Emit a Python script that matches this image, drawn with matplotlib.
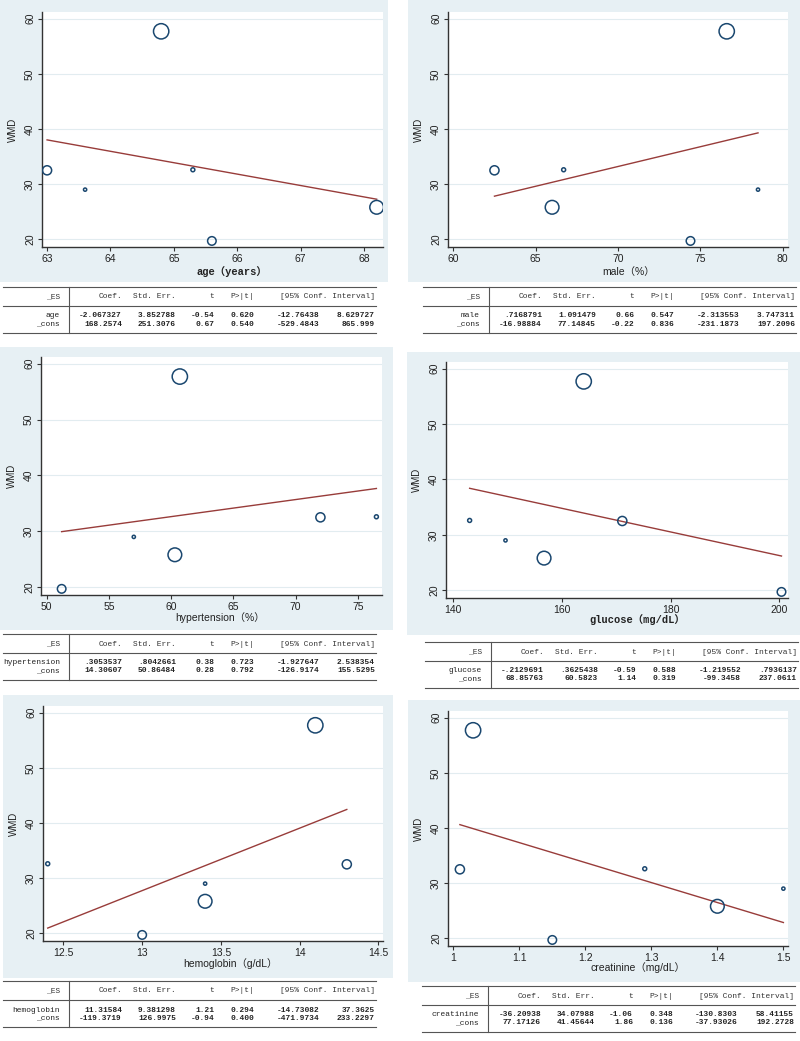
import matplotlib
matplotlib.use("Agg")
import matplotlib.pyplot as plt
from matplotlib.patches import Rectangle
from matplotlib.lines import Line2D
import numpy as np

# study level data (same 6 studies in every panel)
wmd = [57.7, 25.8, 32.5, 19.7, 32.6, 29.0]
weight = [45, 36, 16, 14, 3, 2]

age = [64.8, 68.2, 63.0, 65.6, 65.3, 63.6]
male = [76.6, 66.0, 62.5, 74.4, 66.7, 78.5]
hypertension = [60.7, 60.3, 72.0, 51.2, 76.5, 57.0]
glucose = [164.0, 156.7, 171.1, 200.4, 143.0, 149.6]
hemoglobin = [14.1, 13.4, 14.3, 13.0, 12.4, 13.4]
creatinine = [1.03, 1.40, 1.01, 1.15, 1.29, 1.50]

# meta-regression output
header = ["_ES", "Coef.", "Std. Err.", "t", "P>|t|", "[95% Conf. Interval]"]
age_tab = [["age", "-2.067327", "3.852788", "-0.54", "0.620", "-12.76438", "8.629727"],
           ["_cons", "168.2574", "251.3076", "0.67", "0.540", "-529.4843", "865.999"]]
male_tab = [["male", ".7168791", "1.091479", "0.66", "0.547", "-2.313553", "3.747311"],
            ["_cons", "-16.98884", "77.14845", "-0.22", "0.836", "-231.1873", "197.2096"]]
hyp_tab = [["hypertension", ".3053537", ".8042661", "0.38", "0.723", "-1.927647", "2.538354"],
           ["_cons", "14.30607", "50.86484", "0.28", "0.792", "-126.9174", "155.5295"]]
glu_tab = [["glucose", "-.2129691", ".3625438", "-0.59", "0.588", "-1.219552", ".7936137"],
           ["_cons", "68.85763", "60.5823", "1.14", "0.319", "-99.3458", "237.0611"]]
hb_tab = [["hemoglobin", "11.31584", "9.381298", "1.21", "0.294", "-14.73082", "37.3625"],
          ["_cons", "-119.3719", "126.9975", "-0.94", "0.400", "-471.9734", "233.2297"]]
cr_tab = [["creatinine", "-36.20938", "34.07988", "-1.06", "0.348", "-130.8303", "58.41155"],
          ["_cons", "77.17126", "41.45644", "1.86", "0.136", "-37.93026", "192.2728"]]

xlabels = ["age（years）", "male（%）", "hypertension（%）",
           "glucose（mg/dL）", "hemoglobin（g/dL）", "creatinine（mg/dL）"]
xticks = [[63, 64, 65, 66, 67, 68], [60, 65, 70, 75, 80], [50, 55, 60, 65, 70, 75],
          [140, 160, 180, 200], [12.5, 13, 13.5, 14, 14.5], [1, 1.1, 1.2, 1.3, 1.4, 1.5]]
xticklabels = [None, None, None, None, ["12.5", "13", "13.5", "14", "14.5"],
               ["1", "1.1", "1.2", "1.3", "1.4", "1.5"]]

W, H = 800, 1041
fig = plt.figure(figsize=(8, 10.41), dpi=100)
fig.patch.set_facecolor("white")

bg_col = "#e7f0f4"
navy = "#1a476f"
maroon = "#983c3a"

# layout in pixels
panels = [
    dict(x=age, tab=age_tab, bg=(0, 0, 388, 282), ax=(42, 12, 383, 247),
         xlim=(62.92, 68.3), lab=(0.557, -0.105), mono=True, tx=3, ty=287),
    dict(x=male, tab=male_tab, bg=(408, 0, 800, 282), ax=(448, 12, 788, 247),
         xlim=(59.68, 80.32), lab=(0.53, -0.105), mono=False, tx=423, ty=287),
    dict(x=hypertension, tab=hyp_tab, bg=(0, 347, 393, 630), ax=(41, 357, 382, 595),
         xlim=(49.54, 76.95), lab=(0.525, -0.095), mono=False, tx=3, ty=634),
    dict(x=glucose, tab=glu_tab, bg=(407, 352, 800, 635), ax=(446, 362, 788, 598),
         xlim=(138.65, 201.6), lab=(0.56, -0.092), mono=True, tx=425, ty=642),
    dict(x=hemoglobin, tab=hb_tab, bg=(3, 695, 393, 978), ax=(43, 706, 383, 941),
         xlim=(12.37, 14.53), lab=(0.55, -0.097), mono=False, tx=3, ty=981),
    dict(x=creatinine, tab=cr_tab, bg=(408, 700, 800, 982), ax=(448, 711, 788, 946),
         xlim=(0.992, 1.507), lab=(0.56, -0.092), mono=False, tx=422, ty=986),
]

# column right edges relative to table left
col_right = [57, 119, 173, 211, 251, 316, 372]
vline = 66
sans = ["Liberation Sans", "Noto Sans CJK SC"]
mono = ["Liberation Mono", "Noto Sans CJK SC"]


def fx(px):
    return px / W


def fy(py):
    return 1 - py / H


for i, p in enumerate(panels):
    l, t, r, b = p["bg"]
    fig.add_artist(Rectangle((fx(l), fy(b)), fx(r - l), (b - t) / H,
                             transform=fig.transFigure, facecolor=bg_col,
                             edgecolor="none", zorder=0))
    l, t, r, b = p["ax"]
    ax = fig.add_axes([fx(l), fy(b), fx(r - l), (b - t) / H])
    ax.set_facecolor("white")
    ax.set_zorder(2)

    ax.scatter(p["x"], wmd, s=np.array(weight) * 2.7, facecolors="none",
               edgecolors=navy, linewidths=1.1, zorder=3)

    # fitted line from the coefficients
    coef = float(p["tab"][0][1])
    cons = float(p["tab"][1][1])
    xs = np.array([min(p["x"]), max(p["x"])])
    ax.plot(xs, cons + coef * xs, color=maroon, lw=1.0, zorder=2)

    ax.set_xlim(*p["xlim"])
    ax.set_ylim(18.6, 61.2)
    ax.set_yticks([20, 30, 40, 50, 60])
    ax.set_xticks(xticks[i])
    if xticklabels[i]:
        ax.set_xticklabels(xticklabels[i])
    ax.grid(axis="y", color="#e2ecf0", lw=0.8)
    ax.set_axisbelow(True)
    for s in ["top", "right"]:
        ax.spines[s].set_visible(False)
    for s in ["left", "bottom"]:
        ax.spines[s].set_color("#333333")
        ax.spines[s].set_linewidth(1.0)
    ax.tick_params(direction="out", length=3, width=0.8, color="#333333",
                   labelsize=7.5, labelcolor="#222222", pad=2)
    for lab in ax.get_yticklabels():
        lab.set_rotation(90)
        lab.set_va("center")
        lab.set_fontfamily("Liberation Sans")
    for lab in ax.get_xticklabels():
        lab.set_fontfamily("Liberation Sans")
    ax.set_ylabel("WMD", fontsize=7, family="Liberation Sans", color="#222222")
    ax.yaxis.set_label_coords(-0.07, 0.5)
    ax.set_xlabel(xlabels[i], fontsize=7.5, color="#222222",
                  family=mono if p["mono"] else sans,
                  fontweight="bold" if p["mono"] else "normal")
    ax.xaxis.set_label_coords(p["lab"][0], p["lab"][1])
    ax.xaxis.label.set_va("center")

    # regression table
    x0, y0 = p["tx"], p["ty"]
    x1 = min(x0 + 373, 800)
    for dy in [0, 19, 46]:
        fig.add_artist(Line2D([fx(x0), fx(x1)], [fy(y0 + dy)] * 2,
                              transform=fig.transFigure, color="#555555", lw=0.8))
    fig.add_artist(Line2D([fx(x0 + vline)] * 2, [fy(y0), fy(y0 + 46)],
                          transform=fig.transFigure, color="#555555", lw=0.8))
    hdr_cols = [0, 1, 2, 3, 4, 6]
    for h, c in zip(header, hdr_cols):
        fig.text(fx(x0 + col_right[c]), fy(y0 + 10), h, ha="right", va="center",
                 family="Liberation Mono", fontsize=5.7, color="#333333")
    for k, row in enumerate(p["tab"]):
        yy = y0 + 29 + k * 8
        for c, val in enumerate(row):
            fig.text(fx(x0 + col_right[c]), fy(yy), val, ha="right", va="center",
                     family="Liberation Mono", fontsize=5.7, color="#222222",
                     fontweight="normal" if c == 0 else "bold")

fig.savefig("out.png", dpi=100)
plt.close()
